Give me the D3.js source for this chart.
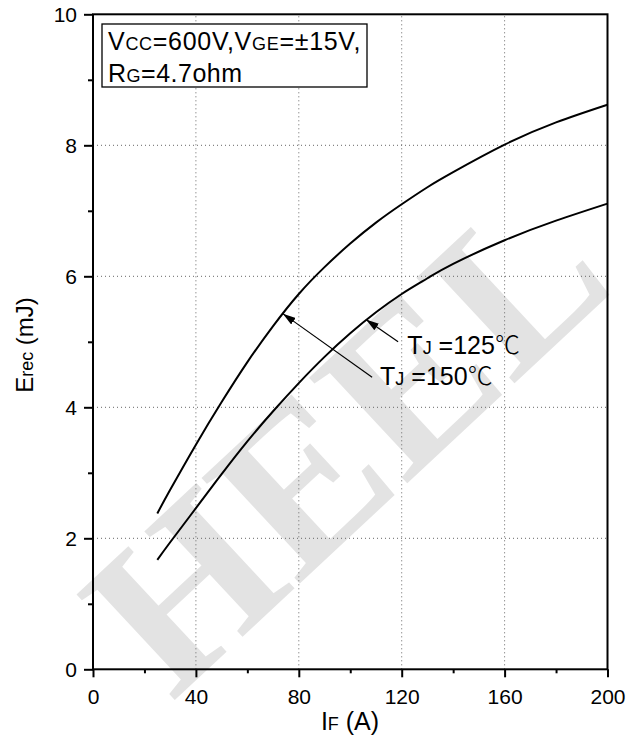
<!DOCTYPE html>
<html>
<head>
<meta charset="utf-8">
<script src="https://cdn.jsdelivr.net/npm/d3@7"></script>
<style>
  body { margin: 0; background: #fff; }
  text { font-family: "Liberation Sans", Arial, sans-serif; fill: #000; }
</style>
</head>
<body>
<svg id="chart" width="636" height="740"></svg>
<script>
// axis ticks
const xTicks = [0, 40, 80, 120, 160, 200];
const xMinor = [20, 60, 100, 140, 180];
const yTicks = [0, 2, 4, 6, 8, 10];
const yMinor = [1, 3, 5, 7, 9];

// Erec vs IF
const ifAmps = [25, 30, 40, 50, 60, 70, 80, 90, 100, 110, 120, 130, 140, 160, 180, 200];
const erec150 = [2.38, 2.74, 3.43, 4.08, 4.69, 5.24, 5.73, 6.14, 6.50, 6.82, 7.10, 7.36, 7.59, 8.01, 8.35, 8.62];
const erec125 = [1.67, 1.94, 2.46, 2.98, 3.48, 3.94, 4.37, 4.77, 5.13, 5.45, 5.73, 5.97, 6.19, 6.55, 6.85, 7.11];

// annotation labels: [tipX, tipY, tailX, tailY, textX, textY] in data units
const labels125 = [106.1, 5.34, 118.6, 5.0, 122.2, 4.81];
const labels150 = [73.8, 5.43, 108.5, 4.46, 111.6, 4.34];

const width = 636, height = 740;
const margin = { top: 14.3, right: 28.5, bottom: 70.7, left: 93 };

const svg = d3.select('#chart');

const x = d3.scaleLinear().domain([0, 200]).range([margin.left, width - margin.right]);
const y = d3.scaleLinear().domain([0, 10]).range([height - margin.bottom, margin.top]);

// watermark
svg.append('text')
  .attr('transform', 'translate(345,440) rotate(-43)')
  .attr('text-anchor', 'middle')
  .attr('dominant-baseline', 'central')
  .style('font-family', '"Liberation Serif", serif')
  .style('font-weight', 'bold')
  .style('font-size', '220px')
  .style('fill', '#e3e3e3')
  .text('HEEL');

// dotted grid
const grid = svg.append('g')
  .attr('stroke', '#666')
  .attr('stroke-width', 1)
  .attr('stroke-dasharray', '1,3');
grid.selectAll('.gx').data(xTicks.slice(1, -1)).join('line')
  .attr('x1', d => x(d)).attr('x2', d => x(d))
  .attr('y1', y(0)).attr('y2', y(10));
grid.selectAll('.gy').data(yTicks.slice(1, -1)).join('line')
  .attr('x1', x(0)).attr('x2', x(200))
  .attr('y1', d => y(d)).attr('y2', d => y(d));

// axes
svg.append('g')
  .attr('transform', `translate(0,${y(0)})`)
  .call(d3.axisBottom(x).tickValues(xTicks).tickSize(8).tickSizeOuter(0).tickPadding(12));
svg.append('g')
  .attr('transform', `translate(0,${y(0)})`)
  .call(d3.axisBottom(x).tickValues(xMinor).tickSize(4).tickFormat(''));

svg.append('g')
  .attr('transform', `translate(${x(0)},0)`)
  .call(d3.axisLeft(y).tickValues(yTicks).tickSize(9).tickSizeOuter(0).tickPadding(7));
svg.append('g')
  .attr('transform', `translate(${x(0)},0)`)
  .call(d3.axisLeft(y).tickValues(yMinor).tickSize(5).tickFormat(''));

svg.selectAll('.tick line').attr('stroke', '#000').attr('stroke-width', 2);
svg.selectAll('.domain').remove();
svg.selectAll('.tick text')
  .style('font-family', '"Liberation Sans", Arial, sans-serif')
  .style('font-size', '21px');

// frame
svg.append('rect')
  .attr('x', x(0)).attr('y', y(10))
  .attr('width', x(200) - x(0)).attr('height', y(0) - y(10))
  .attr('fill', 'none').attr('stroke', '#000').attr('stroke-width', 2);

// curves
const line = d3.line()
  .x(d => x(d[0]))
  .y(d => y(d[1]))
  .curve(d3.curveNatural);
[erec150, erec125].forEach(series => {
  svg.append('path')
    .datum(ifAmps.map((a, i) => [a, series[i]]))
    .attr('fill', 'none')
    .attr('stroke', '#000')
    .attr('stroke-width', 2)
    .attr('d', line);
});

// arrows + labels
svg.append('defs').append('marker')
  .attr('id', 'head')
  .attr('markerUnits', 'userSpaceOnUse')
  .attr('markerWidth', 13).attr('markerHeight', 8)
  .attr('refX', 13).attr('refY', 4)
  .attr('orient', 'auto')
  .append('path').attr('d', 'M0,0 L13,4 L0,8 Z').attr('fill', '#000');

function tjLabel(a, temp) {
  svg.append('line')
    .attr('x1', x(a[2])).attr('y1', y(a[3]))
    .attr('x2', x(a[0])).attr('y2', y(a[1]))
    .attr('stroke', '#000').attr('stroke-width', 1.2)
    .attr('marker-end', 'url(#head)');
  const t = svg.append('text')
    .attr('x', x(a[4])).attr('y', y(a[5]))
    .style('font-size', '25px');
  t.append('tspan').text('T');
  t.append('tspan').style('font-size', '18px').text('J');
  t.append('tspan').text(' =' + temp);
  t.append('tspan').style('font-family', '"Noto Sans CJK SC", sans-serif').style('font-weight', 300).text('℃');
}
tjLabel(labels125, 125);
tjLabel(labels150, 150);

// condition box
svg.append('rect')
  .attr('x', 102).attr('y', 24).attr('width', 265).attr('height', 63)
  .attr('fill', '#fff').attr('stroke', '#000').attr('stroke-width', 1.3);
const l1 = svg.append('text').attr('x', 108).attr('y', 50)
  .style('font-size', '25px').style('letter-spacing', '0.7px');
l1.append('tspan').text('V');
l1.append('tspan').style('font-size', '18px').text('CC');
l1.append('tspan').text('=600V,V');
l1.append('tspan').style('font-size', '18px').text('GE');
l1.append('tspan').text('=±15V,');
const l2 = svg.append('text').attr('x', 108).attr('y', 82)
  .style('font-size', '25px').style('letter-spacing', '0.5px');
l2.append('tspan').text('R');
l2.append('tspan').style('font-size', '18px').text('G');
l2.append('tspan').text('=4.7ohm');

// axis titles
const xt = svg.append('text')
  .attr('x', 350).attr('y', 730)
  .attr('text-anchor', 'middle')
  .style('font-size', '25px');
xt.append('tspan').text('I');
xt.append('tspan').style('font-size', '18px').text('F');
xt.append('tspan').text(' (A)');

const yt = svg.append('text')
  .attr('transform', 'translate(33,345) rotate(-90)')
  .attr('text-anchor', 'middle')
  .style('font-size', '24px');
yt.append('tspan').text('E');
yt.append('tspan').style('font-size', '18px').text('rec');
yt.append('tspan').text(' (mJ)');
</script>
</body>
</html>
